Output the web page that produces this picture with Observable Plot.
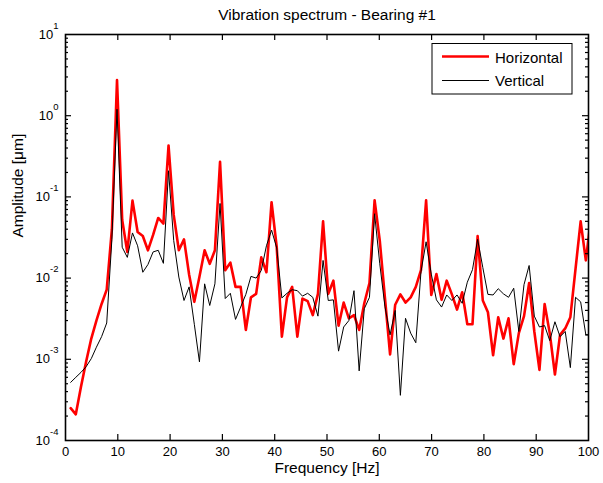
<!DOCTYPE html>
<html><head><meta charset="utf-8">
<script src="https://cdn.jsdelivr.net/npm/d3@7"></script>
<script src="https://cdn.jsdelivr.net/npm/@observablehq/plot@0.6"></script>
<style>body{margin:0;background:#fff}</style>
</head><body><div id="chart"></div>
<script>
const titleText = "Vibration spectrum - Bearing #1";
const xLabel = "Frequency [Hz]";
const yLabel = "Amplitude [\u03bcm]";
const seriesNames = ["Horizontal", "Vertical"];

const freqHz = [0.99,1.97,2.96,3.94,4.93,5.91,6.90,7.88,8.87,9.85,
10.84,11.82,12.81,13.79,14.78,15.76,16.75,17.73,18.72,19.70,
20.69,21.67,22.66,23.64,24.63,25.61,26.60,27.58,28.57,29.55,
30.54,31.52,32.51,33.49,34.48,35.46,36.45,37.43,38.42,39.40,
40.39,41.37,42.36,43.34,44.33,45.31,46.30,47.28,48.27,49.25,
50.24,51.22,52.21,53.19,54.18,55.16,56.15,57.13,58.12,59.10,
60.09,61.07,62.06,63.04,64.03,65.01,66.00,66.98,67.97,68.95,
69.94,70.92,71.91,72.89,73.88,74.86,75.85,76.83,77.82,78.80,
79.79,80.77,81.76,82.74,83.73,84.71,85.70,86.68,87.67,88.65,
89.64,90.62,91.61,92.59,93.58,94.56,95.55,96.53,97.52,98.50,
99.49,100.47];

const horizontal = [2.5e-4,2.1e-4,4.6e-4,9.3e-4,1.8e-3,3.0e-3,4.8e-3,7.2e-3,0.04,2.75,
0.052,0.021,0.090,0.037,0.033,0.022,0.034,0.055,0.047,0.43,
0.06,0.022,0.030,0.011,0.0051,0.0104,0.022,0.015,0.022,0.27,
0.0125,0.0155,0.0078,0.0078,0.0023,0.0058,0.0064,0.018,0.0118,0.086,
0.024,0.0019,0.0058,0.0078,0.0019,0.0056,0.0052,0.0035,0.0064,0.050,
0.0064,0.0093,0.0026,0.0050,0.0032,0.0035,0.0023,0.0049,0.0087,0.091,
0.029,0.0058,0.00115,0.0047,0.0063,0.0050,0.0058,0.0078,0.0125,0.091,
0.0062,0.0112,0.0054,0.0093,0.0063,0.0041,0.0067,0.0027,0.0027,0.033,
0.0053,0.0038,0.00112,0.0033,0.0018,0.0032,0.00087,0.0021,0.0034,0.0087,
0.0022,0.00074,0.0048,0.0021,0.00065,0.0020,0.0024,0.0033,0.013,0.050,
0.0165,0.055];

const vertical = [5.2e-4,6.0e-4,6.9e-4,8.1e-4,1.02e-3,1.41e-3,1.9e-3,2.8e-3,0.03,1.2,
0.024,0.018,0.036,0.025,0.0118,0.0147,0.021,0.022,0.0152,0.21,
0.029,0.0103,0.0053,0.0078,0.0027,0.00093,0.0085,0.0046,0.0085,0.083,
0.0056,0.0065,0.0031,0.0044,0.0063,0.0105,0.0100,0.0124,0.025,0.039,
0.0235,0.0057,0.0065,0.0072,0.0070,0.0060,0.0065,0.0058,0.0034,0.0165,
0.0053,0.0054,0.00126,0.0025,0.0030,0.0070,0.00072,0.0042,0.0058,0.062,
0.015,0.0045,0.0020,0.0040,0.00036,0.0032,0.0021,0.0016,0.012,0.028,
0.0112,0.0054,0.0044,0.0062,0.0053,0.0062,0.0049,0.0089,0.0127,0.030,
0.0135,0.0063,0.0062,0.0074,0.0064,0.0058,0.0075,0.0022,0.0083,0.0143,
0.0034,0.0025,0.0026,0.0017,0.0029,0.0019,0.0022,0.00079,0.0058,0.0051,
0.0020,0.0020];

const xTickLabels = [0,10,20,30,40,50,60,70,80,90,100];
const xTickMarks = [10,20,30,40,50,60,70,80,90];
const yDecades = [1e-4,1e-3,1e-2,1e-1,1,10];
const yInnerDecades = [1e-3,1e-2,1e-1,1];
const yMinorMultipliers = [2,3,4,5,6,7,8,9];
const yMinorTicks = yDecades.slice(0, -1).flatMap(d => yMinorMultipliers.map(m => m * d));

const rows = freqHz.map((f, i) => ({f, h: horizontal[i], v: vertical[i]}));

const font = "'Liberation Sans', Arial, Helvetica, sans-serif";

const W = 603, H = 483, mL = 65, mR = 15, mT = 34, mB = 43;
const frameW = W - mL - mR, frameH = H - mT - mB;

// inward tick marks: full-frame ticks shortened by insets
const tickStyle = {stroke: "black", strokeWidth: 1.2};
const ticksBottom = (len) => Plot.tickX(xTickMarks, {x: d => d, insetTop: frameH - len, ...tickStyle});
const ticksTop = (len) => Plot.tickX(xTickMarks, {x: d => d, insetBottom: frameH - len, ...tickStyle});
const ticksLeft = (data, len) => Plot.tickY(data, {y: d => d, insetRight: frameW - len, ...tickStyle});
const ticksRight = (data, len) => Plot.tickY(data, {y: d => d, insetLeft: frameW - len, ...tickStyle});

const svg = Plot.plot({
  width: W,
  height: H,
  marginLeft: mL,
  marginRight: mR,
  marginTop: mT,
  marginBottom: mB,
  style: {fontFamily: font, fontSize: "13px", color: "black", background: "white"},
  x: {domain: [0, 100]},
  y: {type: "log", domain: [1e-4, 10]},
  marks: [
    Plot.line(rows, {x: "f", y: "h", stroke: "#ff0000", strokeWidth: 2.6, clip: true}),
    Plot.line(rows, {x: "f", y: "v", stroke: "black", strokeWidth: 1, clip: true}),
    ticksBottom(6),
    ticksTop(6),
    ticksLeft(yInnerDecades, 6),
    ticksLeft(yMinorTicks, 3),
    ticksRight(yInnerDecades, 6),
    ticksRight(yMinorTicks, 3),
    Plot.frame({stroke: "black", strokeWidth: 1.6}),
    Plot.axisX({anchor: "bottom", ticks: xTickLabels, tickSize: 0, tickPadding: 6, label: null, tickFormat: d => String(d), fontSize: 13}),
    Plot.axisY({anchor: "left", ticks: yDecades, tickSize: 0, tickPadding: 7, label: null, tickFormat: d => String(Math.round(Math.log10(d))), fontSize: 13}),
    Plot.text([titleText], {text: d => d, frameAnchor: "top", dy: -15, lineAnchor: "bottom", fontSize: 15.5}),
    Plot.text([xLabel], {text: d => d, frameAnchor: "bottom", dy: 21, lineAnchor: "top", fontSize: 15.5}),
    Plot.text([yLabel], {text: d => d, frameAnchor: "left", dx: -47, rotate: -90, lineAnchor: "middle", fontSize: 15.5})
  ]
});

// superscript exponents on the y tick labels
d3.select(svg).selectAll('g[aria-label="y-axis tick label"] text').each(function() {
  const t = d3.select(this);
  const e = t.text();
  t.text(null);
  t.append("tspan").text("10");
  t.append("tspan").attr("font-size", 9.5).attr("dy", -10).text(e);
});

// legend
const lg = d3.select(svg).append("g").attr("font-family", font).attr("font-size", 15).attr("text-anchor", "start");
lg.append("rect").attr("x", 432).attr("y", 43.5).attr("width", 140).attr("height", 50.5)
  .attr("fill", "white").attr("stroke", "black").attr("stroke-width", 1);
lg.append("line").attr("x1", 442).attr("x2", 489).attr("y1", 56.5).attr("y2", 56.5)
  .attr("stroke", "#ff0000").attr("stroke-width", 2.6);
lg.append("text").attr("x", 495).attr("y", 62.5).attr("fill", "black").text(seriesNames[0]);
lg.append("line").attr("x1", 442).attr("x2", 489).attr("y1", 80.5).attr("y2", 80.5)
  .attr("stroke", "black").attr("stroke-width", 1);
lg.append("text").attr("x", 495).attr("y", 86).attr("fill", "black").text(seriesNames[1]);

document.getElementById("chart").appendChild(svg);
</script>
</body></html>
